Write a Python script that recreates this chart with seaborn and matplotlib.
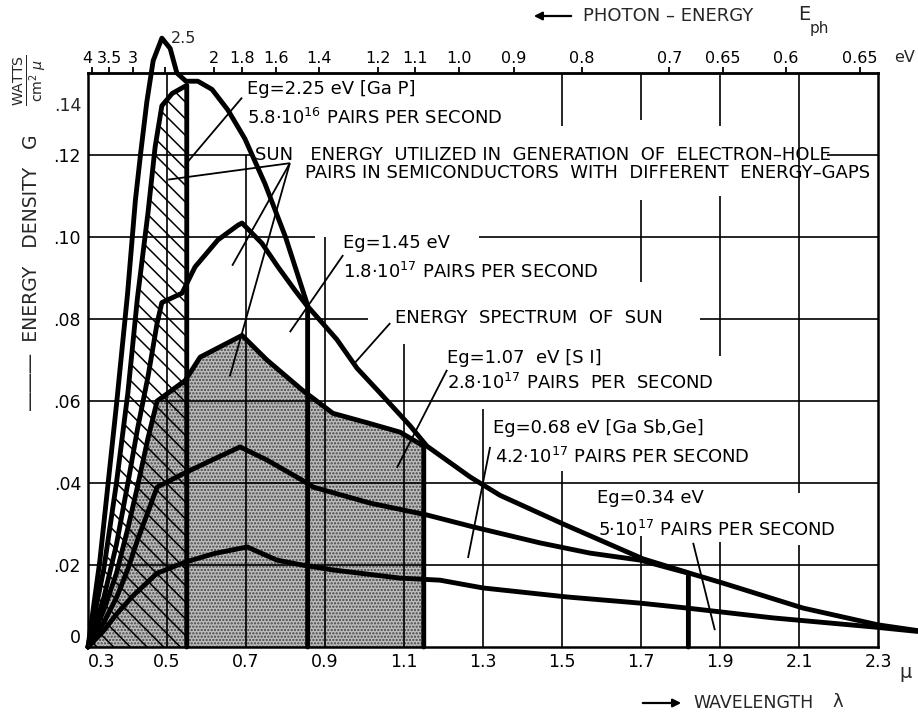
import matplotlib
matplotlib.use("Agg")
import matplotlib.pyplot as plt
import matplotlib.transforms as mtransforms
import numpy as np
import pandas as pd
import seaborn as sns

sns.set_theme(style="white")
plt.rcParams["font.family"] = ["DejaVu Sans"]
plt.rcParams["mathtext.fontset"] = "dejavusans"
plt.rcParams["hatch.linewidth"] = 1.1

# ---------------------------------------------------------------- data
# Energy spectrum of the sun: wavelength (µm) -> energy density G (W / cm² µ)
sun_wavelength = [0.300, 0.330, 0.372, 0.400, 0.420, 0.434, 0.449, 0.465, 0.487, 0.508,
                  0.525, 0.548, 0.578, 0.614, 0.654, 0.697, 0.748, 0.800, 0.857, 0.930,
                  0.981, 1.039, 1.115, 1.158, 1.267, 1.343, 1.503, 1.705, 1.830, 1.907,
                  2.110, 2.300, 2.400]
sun_density = [0.000, 0.021, 0.059, 0.086, 0.109, 0.121, 0.133, 0.143, 0.1485, 0.146,
               0.140, 0.138, 0.138, 0.136, 0.131, 0.124, 0.113, 0.100, 0.083, 0.075,
               0.068, 0.062, 0.054, 0.049, 0.0415, 0.037, 0.030, 0.0215, 0.0178, 0.0156,
               0.0095, 0.0054, 0.0040]

# Sun energy utilised for electron-hole pairs, one curve per energy gap
gap_225_wavelength = [0.300, 0.340, 0.372, 0.401, 0.425, 0.452, 0.470, 0.487, 0.513, 0.550, 0.550]
gap_225_density = [0.000, 0.019, 0.040, 0.062, 0.085, 0.106, 0.122, 0.132, 0.135, 0.137, 0.000]

gap_145_wavelength = [0.300, 0.340, 0.372, 0.401, 0.425, 0.452, 0.475, 0.487, 0.538, 0.571,
                      0.629, 0.680, 0.690, 0.740, 0.781, 0.824, 0.856, 0.856]
gap_145_density = [0.000, 0.012, 0.025, 0.040, 0.053, 0.066, 0.079, 0.084, 0.0863, 0.0927,
                   0.0993, 0.1029, 0.1034, 0.0985, 0.0927, 0.087, 0.083, 0.000]

gap_107_wavelength = [0.300, 0.340, 0.372, 0.401, 0.425, 0.452, 0.475, 0.546, 0.584, 0.690,
                      0.753, 0.842, 0.920, 1.014, 1.090, 1.150, 1.150]
gap_107_density = [0.000, 0.009, 0.018, 0.029, 0.039, 0.051, 0.060, 0.065, 0.0707, 0.076,
                   0.070, 0.0627, 0.057, 0.0545, 0.0524, 0.049, 0.000]

gap_068_wavelength = [0.300, 0.340, 0.372, 0.401, 0.425, 0.452, 0.475, 0.546, 0.614, 0.685,
                      0.753, 0.842, 0.870, 1.014, 1.158, 1.275, 1.444, 1.571, 1.697, 1.820, 1.820]
gap_068_density = [0.000, 0.006, 0.012, 0.019, 0.026, 0.033, 0.039, 0.0425, 0.0456, 0.0488,
                   0.0456, 0.0407, 0.039, 0.0351, 0.0322, 0.0293, 0.0254, 0.0229, 0.0212, 0.0180, 0.000]

gap_034_wavelength = [0.300, 0.340, 0.372, 0.414, 0.475, 0.546, 0.620, 0.703, 0.778, 0.842,
                      0.920, 1.090, 1.191, 1.300, 1.513, 1.698, 1.816, 2.034, 2.287, 2.400]
gap_034_density = [0.000, 0.004, 0.008, 0.0125, 0.018, 0.0207, 0.0228, 0.0244, 0.0212, 0.020,
                   0.0188, 0.0168, 0.0163, 0.0144, 0.0122, 0.0107, 0.0095, 0.0071, 0.0049, 0.0038]

# Axis ticks
wavelength_ticks = [0.3, 0.5, 0.7, 0.9, 1.1, 1.3, 1.5, 1.7, 1.9, 2.1, 2.3]
wavelength_labels = ["0.3", "0.5", "0.7", "0.9", "1.1", "1.3", "1.5", "1.7", "1.9", "2.1", "2.3"]
density_ticks = [0.0, 0.02, 0.04, 0.06, 0.08, 0.10, 0.12]
density_labels = ["0", ".02", ".04", ".06", ".08", ".10", ".12"]
photon_energy_ticks = [4, 3.5, 3, 2.5, 2, 1.8, 1.6, 1.4, 1.2, 1.1, 1.0, 0.9, 0.8, 0.7, 0.65, 0.6, 0.55]
photon_energy_labels = ["4", "3.5", "3", "2.5", "2", "1.8", "1.6", "1.4", "1.2", "1.1", "1.0",
                        "0.9", "0.8", "0.7", "0.65", "0.6", "0.65"]

# ---------------------------------------------------------------- layout
W, H = 918, 717
fig = plt.figure(figsize=(W / 100, H / 100), dpi=100)
fig.patch.set_facecolor("white")
ax = fig.add_axes([88 / W, 1 - 647 / H, 790 / W, 574 / H])


def fpx(x, y):
    """pixel position -> figure fraction"""
    return x / W, 1 - y / H


ax.set_xlim(0.3, 2.3)
ax.set_ylim(0, 0.14)

# shaded areas: hatched for GaP, stippled for Si
ax.fill_between(gap_107_wavelength, 0, gap_107_density, facecolor="#bdbdbd",
                edgecolor="#444444", hatch=".....", linewidth=0, zorder=1)
ax.fill_between(gap_225_wavelength, 0, gap_225_density, facecolor="none",
                edgecolor="black", hatch="\\\\", linewidth=0, zorder=1.5)

# hand-drafted grid, interrupted around the lettering
h_grid = [(0.12, 0.30, 0.715), (0.12, 2.17, 2.30), (0.10, 0.30, 0.875), (0.10, 1.29, 2.30),
          (0.08, 0.30, 1.01), (0.08, 1.85, 2.30), (0.06, 0.30, 2.30), (0.04, 0.30, 2.30),
          (0.02, 0.30, 2.30)]
v_grid = [(0.5, 0, 0.14), (0.7, 0, 0.12), (0.9, 0, 0.10), (1.1, 0, 0.074), (1.3, 0, 0.058),
          (1.5, 0, 0.043), (1.5, 0.127, 0.14), (1.7, 0, 0.027), (1.7, 0.089, 0.109),
          (1.7, 0.1285, 0.14), (1.9, 0, 0.0256), (1.9, 0.071, 0.110), (1.9, 0.127, 0.14),
          (2.1, 0, 0.025), (2.1, 0.0375, 0.14)]
for y, x0, x1 in h_grid:
    ax.hlines(y, x0, x1, color="black", linewidth=1.2, zorder=2)
for x, y0, y1 in v_grid:
    ax.vlines(x, y0, y1, color="black", linewidth=1.2, zorder=2)

# spectrum and utilisation curves
curves = [(sun_wavelength, sun_density),
          (gap_225_wavelength, gap_225_density),
          (gap_145_wavelength, gap_145_density),
          (gap_107_wavelength, gap_107_density),
          (gap_068_wavelength, gap_068_density),
          (gap_034_wavelength, gap_034_density)]
for wl, g in curves:
    frame = pd.DataFrame({"wavelength": wl, "G": g})
    sns.lineplot(data=frame, x="wavelength", y="G", sort=False, estimator=None,
                 color="black", linewidth=3.5, ax=ax, legend=False, zorder=4)
    line = ax.lines[-1]
    line.set_clip_on(False)
    line.set_solid_joinstyle("round")
    line.set_solid_capstyle("round")

# leader lines from the lettering to the curves
leaders = [((0.690, 0.134), (0.546, 0.1176)),
           ((0.811, 0.118), (0.503, 0.114)),
           ((0.811, 0.118), (0.665, 0.093)),
           ((0.811, 0.118), (0.659, 0.066)),
           ((0.946, 0.0956), (0.811, 0.0768)),
           ((1.065, 0.079), (0.971, 0.0688)),
           ((1.209, 0.0676), (1.082, 0.0437)),
           ((1.318, 0.0488), (1.262, 0.0217)),
           ((1.832, 0.0254), (1.887, 0.0041))]
for (x0, y0), (x1, y1) in leaders:
    ax.plot([x0, x1], [y0, y1], color="black", linewidth=1.3, zorder=5, solid_capstyle="butt")

# annotations
fs = 13
notes = [
    (0.703, 0.136, "Eg=2.25 eV [Ga P]"),
    (0.703, 0.129, "5.8·10$^{16}$ PAIRS PER SECOND"),
    (0.723, 0.120, "SUN   ENERGY  UTILIZED IN  GENERATION  OF  ELECTRON–HOLE"),
    (0.849, 0.1156, "PAIRS IN SEMICONDUCTORS  WITH  DIFFERENT  ENERGY–GAPS"),
    (0.946, 0.0985, "Eg=1.45 eV"),
    (0.946, 0.0915, "1.8·10$^{17}$ PAIRS PER SECOND"),
    (1.077, 0.0802, "ENERGY  SPECTRUM  OF  SUN"),
    (1.209, 0.0705, "Eg=1.07  eV [S I]"),
    (1.209, 0.0644, "2.8·10$^{17}$ PAIRS  PER  SECOND"),
    (1.325, 0.0534, "Eg=0.68 eV [Ga Sb,Ge]"),
    (1.330, 0.0463, "4.2·10$^{17}$ PAIRS PER SECOND"),
    (1.589, 0.0363, "Eg=0.34 eV"),
    (1.591, 0.0285, "5·10$^{17}$ PAIRS PER SECOND"),
]
for x, y, s in notes:
    ax.text(x, y, s, fontsize=fs, ha="left", va="center", zorder=6, color="black")

# axes frame and ticks
for side in ["left", "right", "top", "bottom"]:
    ax.spines[side].set_visible(True)
    ax.spines[side].set_color("black")
    ax.spines[side].set_linewidth(1.8)
ax.set_xlabel("")
ax.set_ylabel("")
ax.set_xticks(wavelength_ticks, labels=wavelength_labels)
ax.set_yticks(density_ticks, labels=density_labels)
ax.tick_params(axis="x", length=0, pad=4, labelsize=12.5, colors="black")
ax.tick_params(axis="y", length=0, pad=5, labelsize=12.5, colors="black")
ax.yaxis.get_major_ticks()[0].label1.set_verticalalignment("bottom")
ax.xaxis.get_major_ticks()[0].label1.set_horizontalalignment("left")
ax.text(-6 / 790, 0.132, ".14", transform=mtransforms.blended_transform_factory(ax.transAxes, ax.transData),
        ha="right", va="center", fontsize=12.5)


def to_energy(w):
    w = np.asarray(w, dtype=float)
    with np.errstate(divide="ignore", invalid="ignore"):
        return 1.24 / w


raised = 2.5
top = ax.secondary_xaxis("top", functions=(to_energy, to_energy))
top.set_xticks(photon_energy_ticks,
               labels=["" if e == raised else s for e, s in zip(photon_energy_ticks, photon_energy_labels)])
top.tick_params(direction="out", length=4, width=1.3, pad=1, labelsize=11.5, colors="black")
top.spines["top"].set_linewidth(1.8)
top.xaxis.get_major_ticks()[0].label2.set_horizontalalignment("right")
ax.annotate(photon_energy_labels[photon_energy_ticks.index(raised)], xy=(1.24 / raised, 1),
            xycoords=("data", "axes fraction"), xytext=(13, 25), textcoords="offset points",
            ha="center", va="center", fontsize=11.5, annotation_clip=False)
ax.text(*fpx(905, 57), "eV", transform=fig.transFigure, ha="center", va="center", fontsize=11.5)

# axis titles
fig.text(*fpx(32, 272), "―――  ENERGY   DENSITY   G", rotation=90, ha="center", va="center", fontsize=13.5)
fig.text(*fpx(30, 80), r"$\frac{\mathrm{WATTS}}{\mathrm{cm^{2}}\ \mu}$", rotation=90,
         ha="center", va="center", fontsize=14.5)

fig.text(*fpx(583, 16), "PHOTON – ENERGY", ha="left", va="center", fontsize=13)
fig.text(*fpx(798, 15), "E", ha="left", va="center", fontsize=14)
fig.text(*fpx(810, 28), "ph", ha="left", va="center", fontsize=11)
ax.annotate("", xy=fpx(531, 16), xytext=fpx(574, 16), xycoords="figure fraction",
            textcoords="figure fraction",
            arrowprops=dict(arrowstyle="-|>", color="black", lw=1.6, mutation_scale=12))

fig.text(*fpx(693, 703), "WAVELENGTH", ha="left", va="center", fontsize=12.5)
fig.text(*fpx(838, 702), "λ", ha="center", va="center", fontsize=13)
ax.annotate("", xy=fpx(684, 703), xytext=fpx(640, 703), xycoords="figure fraction",
            textcoords="figure fraction",
            arrowprops=dict(arrowstyle="-|>", color="black", lw=1.6, mutation_scale=12))
fig.text(*fpx(906, 672), "μ", ha="center", va="center", fontsize=14)

fig.savefig("out.png", dpi=100, facecolor="white")
